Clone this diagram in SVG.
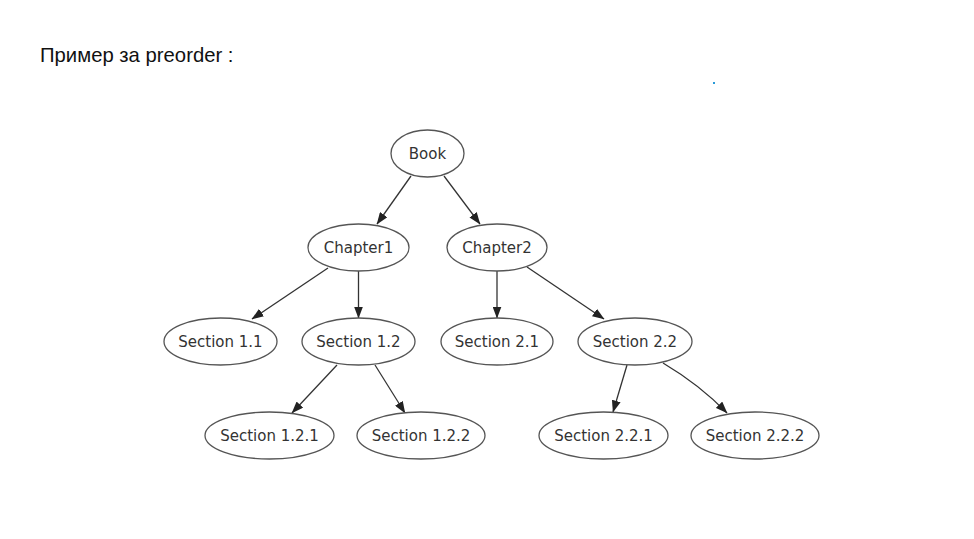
<svg xmlns="http://www.w3.org/2000/svg" width="974" height="539" viewBox="0 0 974 539">
<defs>
<marker id="ah" markerWidth="12" markerHeight="9" refX="11.5" refY="4.5" orient="auto" markerUnits="userSpaceOnUse">
<path d="M0,0 L12,4.5 L0,9 Z" fill="#222"/>
</marker>
<style>
.n ellipse{fill:#fff;stroke:#555;stroke-width:1.3}
.n text{font-family:"DejaVu Sans","Liberation Sans",sans-serif;font-size:15px;fill:#333;text-anchor:middle}
.e path{fill:none;stroke:#333;stroke-width:1.3;marker-end:url(#ah)}
.title{font-family:"Liberation Sans",Arial,sans-serif;font-size:20.3px;fill:#111}
</style>
</defs>
<rect width="974" height="539" fill="#fff"/>
<text class="title" x="40" y="62">Пример за preorder :</text>
<rect x="713" y="82" width="2" height="2" fill="#2a9ad8"/>
<g class="e" id="edges">
<path d="M411,176 L377,224"/>
<path d="M444,176 L480,224"/>
<path d="M328,268 L252,319"/>
<path d="M358.5,271 L358.5,318"/>
<path d="M497,271 L497,318"/>
<path d="M527,267 L604,319"/>
<path d="M337,365 L292,413"/>
<path d="M375,365 L405,413"/>
<path d="M627,365 L613,412"/>
<path d="M663,363 Q700,385 727,413"/>
</g>
<g class="n" id="book"><ellipse cx="427.5" cy="153.5" rx="36.5" ry="23.5"/><text x="427.5" y="159">Book</text></g>
<g class="n" id="chapter1"><ellipse cx="358.5" cy="247.5" rx="50.5" ry="23.5"/><text x="358.5" y="253">Chapter1</text></g>
<g class="n" id="chapter2"><ellipse cx="497" cy="247.5" rx="50" ry="23.5"/><text x="497" y="253">Chapter2</text></g>
<g class="n" id="s11"><ellipse cx="220.5" cy="341.5" rx="56.5" ry="23.5"/><text x="220.5" y="347">Section 1.1</text></g>
<g class="n" id="s12"><ellipse cx="358.5" cy="341.5" rx="56.5" ry="23.5"/><text x="358.5" y="347">Section 1.2</text></g>
<g class="n" id="s21"><ellipse cx="497" cy="341.5" rx="56" ry="23.5"/><text x="497" y="347">Section 2.1</text></g>
<g class="n" id="s22"><ellipse cx="635" cy="341.5" rx="57" ry="23.5"/><text x="635" y="347">Section 2.2</text></g>
<g class="n" id="s121"><ellipse cx="269.5" cy="435.5" rx="64.5" ry="23.5"/><text x="269.5" y="441">Section 1.2.1</text></g>
<g class="n" id="s122"><ellipse cx="421" cy="435.5" rx="64" ry="23.5"/><text x="421" y="441">Section 1.2.2</text></g>
<g class="n" id="s221"><ellipse cx="603.5" cy="435.5" rx="64.5" ry="23.5"/><text x="603.5" y="441">Section 2.2.1</text></g>
<g class="n" id="s222"><ellipse cx="755" cy="435.5" rx="64" ry="23.5"/><text x="755" y="441">Section 2.2.2</text></g>
</svg>
